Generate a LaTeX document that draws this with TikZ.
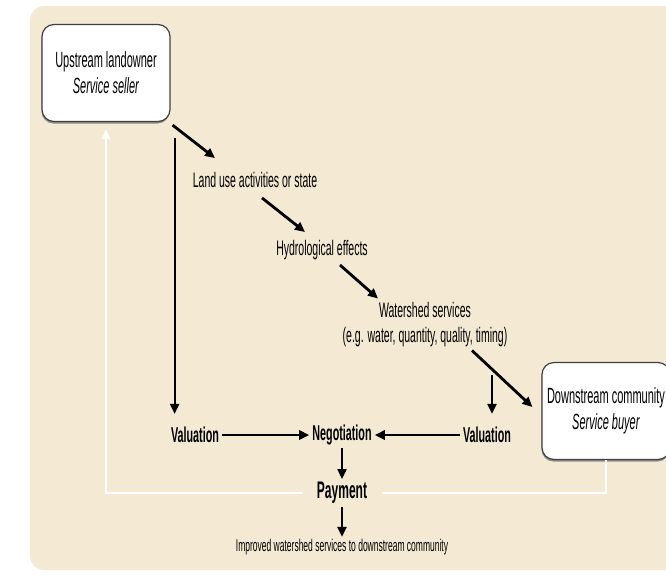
\documentclass[tikz,border=0pt]{standalone}
\usepackage{fontspec}
\setmainfont{Liberation Sans}[FakeStretch=0.5]
\usetikzlibrary{arrows.meta,shadows}
\definecolor{panel}{RGB}{244,233,211}
\begin{document}
\begin{tikzpicture}[x=1pt, y=-1pt,
    flow/.style={-{Triangle[length=10pt,width=9pt]}, line width=2.8pt},
    thinflow/.style={-{Triangle[length=10pt,width=9pt]}, line width=2.1pt},
    ret/.style={white, line width=2.4pt},
    party/.style={draw=black!75, line width=1.2pt, fill=white, rounded corners=12pt,
        align=center, minimum width=128pt, minimum height=97pt,
        drop shadow={shadow xshift=-0.5pt, shadow yshift=-2pt, fill=black!45, opacity=1},
        font=\fontsize{22}{26}\selectfont},
    stage/.style={align=center, inner sep=2pt, font=\fontsize{21}{25}\selectfont},
    key/.style={inner sep=3pt, font=\bfseries\fontsize{21.5}{24}\selectfont}]
    % Frame
    \useasboundingbox (0,0) rectangle (666,574);
    \fill[panel, rounded corners=14pt] (30,6) rectangle (700,570);

    % Buyer and seller
    \node[party] (seller) at (106,73) {Upstream landowner\\\textit{Service seller}};
    \node[party] (buyer) at (606,411) {Downstream community\\\textit{Service buyer}};

    % Chain of effects
    \node[stage] (landuse) at (255,180) {Land use activities or state};
    \node[stage] (hydro) at (322,250) {Hydrological effects};
    \node[stage] (wsvc) at (425,325) {Watershed services\\(e.g. water, quantity, quality, timing)};

    % Deal
    \node[key] (val1) at (195,435) {Valuation};
    \node[key] (neg) at (342,435) {Negotiation};
    \node[key] (val2) at (487,435) {Valuation};
    \node[key, font=\bfseries\fontsize{24}{26}\selectfont] (pay) at (342,493) {Payment};
    \node[stage, font=\fontsize{17}{19}\selectfont] (impr) at (342,547) {Improved watershed services to downstream community};

    % Diagonal arrows
    \draw[flow] ([shift={(2,3)}]seller.south east) -- ([shift={(-40,-12)}]landuse.north);
    \draw[flow] ([shift={(7,8)}]landuse.south) -- ([shift={(-17,-6)}]hydro.north);
    \draw[flow] ([shift={(18,3)}]hydro.south) -- ([shift={(-47,-2)}]wsvc.north);
    \draw[flow] ([shift={(47,1)}]wsvc.south) -- ([shift={(-9,-4)}]buyer.west);

    % Drops to the valuations
    \coordinate (drop1) at ([shift={(4,16)}]seller.south east);
    \coordinate (drop2) at ([shift={(67,26)}]wsvc.south);
    \draw[thinflow, shorten >=10pt] (drop1) -- (drop1 |- val1.north);
    \draw[thinflow, shorten >=10pt] (drop2) -- (drop2 |- val2.north);

    % Negotiation and payment
    \draw[flow] (val1.east) -- (neg.west);
    \draw[flow] (val2.west) -- (neg.east);
    \draw[thinflow] (neg.south) -- (pay.north);
    \draw[thinflow] (pay.south) -- (impr.north);

    % Money back to the seller
    \draw[ret, shorten >=12pt] (buyer.south) |- (pay.east);
    \draw[ret, -{Triangle[length=10pt,width=8pt]}, shorten <=12pt, shorten >=7pt] (pay.west) -| (seller.south);
\end{tikzpicture}
\end{document}
